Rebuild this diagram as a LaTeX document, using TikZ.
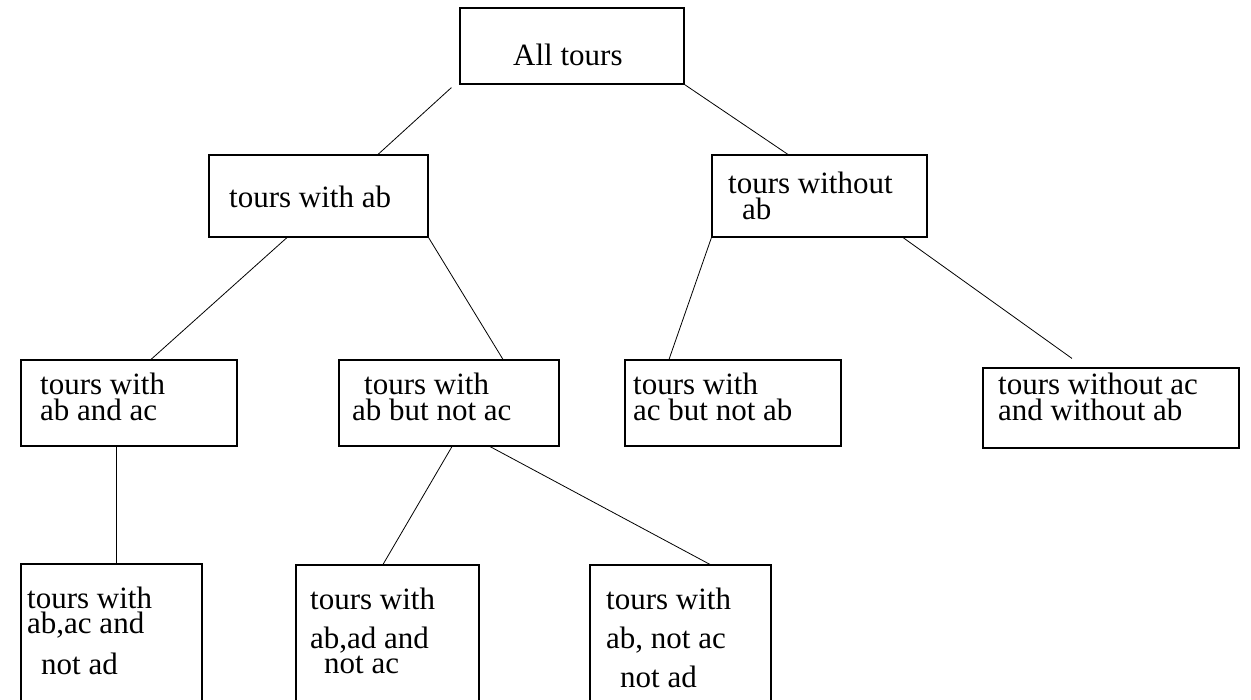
\documentclass[tikz,border=0pt]{standalone}
\usepackage{fontspec}
\setmainfont{Liberation Serif}
\begin{document}
\begin{tikzpicture}[x=1pt,y=-1pt,
  box/.style={draw,line width=1.1pt,rectangle,inner sep=0pt},
  link/.style={draw,line width=0.8pt},
  lbl/.style={anchor=base west,inner sep=0pt,text height=20pt,text depth=0pt,
    font=\fontsize{31}{31}\selectfont}]
\useasboundingbox (0,0) rectangle (1251,700);
\clip (0,0) rectangle (1251,700);

% boxes of the search tree
\node[box,minimum width=224,minimum height=76] (A) at (572,46) {};
\node[box,minimum width=219,minimum height=82] (B) at (318.5,196) {};
\node[box,minimum width=215,minimum height=82] (C) at (819.5,196) {};
\node[box,minimum width=216,minimum height=86] (D) at (129,403) {};
\node[box,minimum width=220,minimum height=86] (E) at (449,403) {};
\node[box,minimum width=216,minimum height=86] (F) at (733,403) {};
\node[box,minimum width=256,minimum height=80] (G) at (1111,408) {};
\node[box,minimum width=181,minimum height=200] (H) at (111.5,664) {};
\node[box,minimum width=183,minimum height=200] (I) at (387.5,665) {};
\node[box,minimum width=181,minimum height=200] (J) at (680.5,665) {};

% labels
\node[lbl] (tA) at (513,66) {All tours};
\node[lbl] (tB) at (229,208) {tours with ab};
\node[lbl] (tC1) at (728,194) {tours without};
\node[lbl] (tC2) at (742,220) {ab};
\node[lbl] (tD1) at (40,395) {tours with};
\node[lbl] (tD2) at (40,421) {ab and ac};
\node[lbl] (tE1) at (364,395) {tours with};
\node[lbl] (tE2) at (352,421) {ab but not ac};
\node[lbl] (tF1) at (633,395) {tours with};
\node[lbl] (tF2) at (633,421) {ac but not ab};
\node[lbl] (tG1) at (998,395) {tours without ac};
\node[lbl] (tG2) at (998,421) {and without ab};
\node[lbl] (tH1) at (27,608) {tours with};
\node[lbl] (tH2) at (27,633) {ab,ac and};
\node[lbl] (tH3) at (41,674) {not ad};
\node[lbl] (tI1) at (310,609) {tours with};
\node[lbl] (tI2) at (310,648) {ab,ad and};
\node[lbl] (tI3) at (324,673) {not ac};
\node[lbl] (tJ1) at (606,609) {tours with};
\node[lbl] (tJ2) at (606,648) {ab, not ac};
\node[lbl] (tJ3) at (620,687) {not ad};

% free end of the link to the right-most box
\coordinate (gEnd) at ([shift={(-39,-9)}]G.north);

% tree links
\draw[link] ([shift={(-8,3)}]A.south west) -- ([shift={(59.5,0)}]B.north);
\draw[link] (A.south east) -- ([shift={(-31.5,0)}]C.north);
\draw[link] ([shift={(-31.5,0)}]B.south) -- ([shift={(22,0)}]D.north);
\draw[link] (B.south east) -- ([shift={(54,0)}]E.north);
\draw[link] (C.south west) -- ([shift={(-64,0)}]F.north);
\draw[link] ([shift={(83.5,0)}]C.south) -- (gEnd);
\draw[link] ([shift={(-13,0)}]D.south) -- ([shift={(4.5,0)}]H.north);
\draw[link] ([shift={(3,0)}]E.south) -- ([shift={(-4.5,0)}]I.north);
\draw[link] ([shift={(41,0)}]E.south) -- ([shift={(29.5,0)}]J.north);
\end{tikzpicture}
\end{document}
